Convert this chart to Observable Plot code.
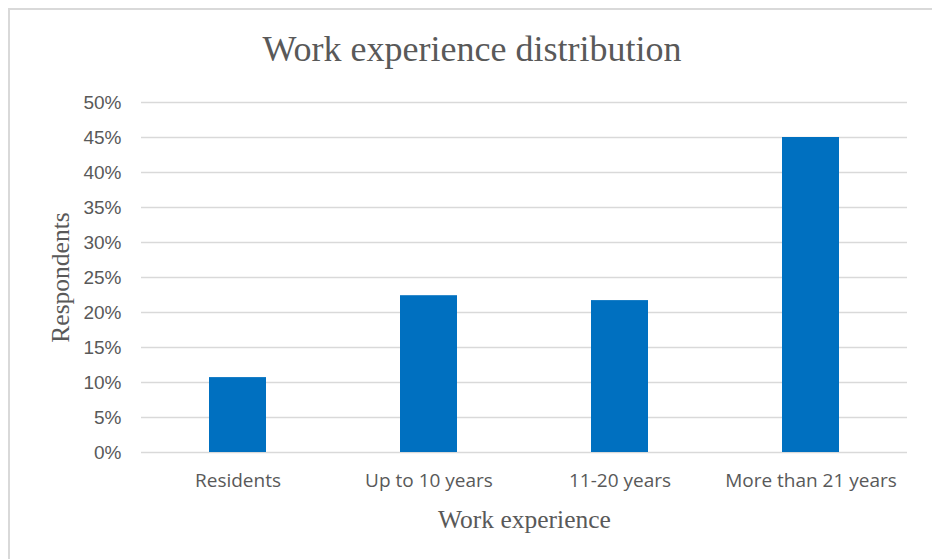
<!DOCTYPE html>
<html>
<head>
<meta charset="utf-8">
<script src="https://cdn.jsdelivr.net/npm/d3@7"></script>
<script src="https://cdn.jsdelivr.net/npm/@observablehq/plot@0.6"></script>
<style>
  html, body { margin: 0; padding: 0; background: #fff; overflow: hidden; }
  #wrap { position: relative; width: 932px; height: 559px; }
  #frame { position: absolute; left: 8px; top: 8px; width: 940px; height: 570px; border: 2px solid #d9d9d9; box-sizing: border-box; pointer-events: none; }
  #title { position: absolute; left: 0; top: 29px; width: 944px; text-align: center; font-family: "Liberation Serif", "DejaVu Serif", serif; font-size: 36px; line-height: 40px; color: #595959; }
  #chart { position: absolute; left: 0; top: 80px; }
</style>
</head>
<body>
<div id="wrap">
  <div id="frame"></div>
  <div id="title">Work experience distribution</div>
  <div id="chart"></div>
</div>
<script>
const categories = ["Residents", "Up to 10 years", "11-20 years", "More than 21 years"];
const values = [10.7, 22.4, 21.7, 45.0];
const yTicks = [0, 5, 10, 15, 20, 25, 30, 35, 40, 45, 50];

const data = categories.map((c, i) => ({category: c, value: values[i]}));

const chart = Plot.plot({
  width: 932,
  height: 479,
  marginLeft: 141,
  marginRight: 25,
  marginTop: 22,
  marginBottom: 107,
  style: {background: "transparent"},
  x: {domain: categories, paddingInner: 0.7, paddingOuter: 0.35, label: null},
  y: {domain: [0, 50], label: null},
  marks: [
    Plot.gridY(yTicks, {stroke: "#d9d9d9", strokeOpacity: 1, strokeWidth: 1.3}),
    Plot.barY(data, {x: "category", y: "value", fill: "#0070C0"}),
    Plot.axisY(yTicks, {tickSize: 0, tickPadding: 20, tickFormat: d => d + "%", fontSize: 19, fill: "#595959", fontFamily: "Liberation Sans, Arial, sans-serif", label: null}),
    Plot.axisX({tickSize: 0, tickPadding: 21, fontSize: 19, fill: "#595959", fontFamily: "Open Sans, Noto Sans, sans-serif", label: null}),
    Plot.text(["Work experience"], {frameAnchor: "bottom", dy: 67, text: d => d, fontSize: 25.5, fill: "#595959", fontFamily: "Liberation Serif, serif", lineAnchor: "middle", textAnchor: "middle"}),
    Plot.text(["Respondents"], {frameAnchor: "left", dx: -81, rotate: -90, text: d => d, fontSize: 25.5, fill: "#595959", fontFamily: "Liberation Serif, serif", lineAnchor: "middle", textAnchor: "middle"})
  ]
});
document.getElementById("chart").appendChild(chart);
</script>
</body>
</html>
